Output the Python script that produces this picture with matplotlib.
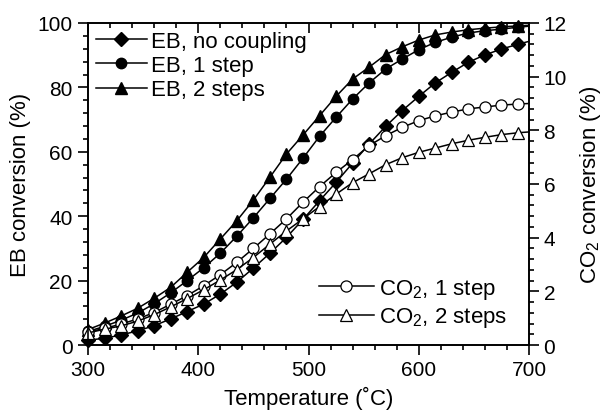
import matplotlib
matplotlib.use("Agg")
import matplotlib.pyplot as plt
from matplotlib.ticker import MultipleLocator, AutoMinorLocator

plt.rcParams["font.family"] = ["Liberation Sans", "DejaVu Sans"]
plt.rcParams["mathtext.fontset"] = "custom"
plt.rcParams["mathtext.rm"] = "Liberation Sans"
plt.rcParams["mathtext.it"] = "Liberation Sans:italic"
plt.rcParams["mathtext.bf"] = "Liberation Sans:bold"

# temperatures (markers every 15 C, the last point is the end of the line)
temp = [300, 315, 330, 345, 360, 375, 390, 405, 420, 435, 450, 465, 480, 495,
        510, 525, 540, 555, 570, 585, 600, 615, 630, 645, 660, 675, 690, 700]

# EB conversion (%)
eb_no_coupling = [1.5, 2.1, 3.1, 4.4, 6.0, 8.1, 10.4, 12.7, 15.8, 19.5, 23.9, 28.5,
                  33.4, 39.0, 44.8, 50.5, 56.5, 62.4, 67.9, 72.8, 77.2, 81.4, 84.7,
                  87.8, 90.1, 91.9, 93.4, 94.3]
eb_1step = [4.2, 5.8, 7.7, 9.9, 12.8, 16.2, 20.0, 24.0, 28.5, 33.8, 39.5, 45.5,
            51.5, 58.0, 64.8, 70.7, 76.4, 81.4, 85.7, 88.8, 91.7, 94.0, 95.6,
            96.9, 97.6, 98.1, 98.7, 99.0]
eb_2steps = [4.8, 6.8, 9.0, 11.4, 14.5, 17.9, 22.6, 27.2, 32.9, 38.6, 45.0, 52.1,
             59.3, 65.2, 71.2, 77.2, 82.6, 86.3, 90.2, 92.6, 94.7, 96.3, 97.2,
             97.9, 98.4, 98.8, 99.1, 99.3]

# CO2 conversion (%)
co2_1step = [0.48, 0.62, 0.78, 0.97, 1.21, 1.52, 1.84, 2.21, 2.62, 3.08, 3.60, 4.14,
             4.70, 5.32, 5.90, 6.43, 6.91, 7.43, 7.80, 8.11, 8.36, 8.54, 8.68,
             8.80, 8.87, 8.94, 8.98, 9.00]
co2_2steps = [0.45, 0.59, 0.71, 0.89, 1.13, 1.42, 1.73, 2.06, 2.42, 2.81, 3.26, 3.76,
              4.25, 4.70, 5.16, 5.62, 6.05, 6.38, 6.72, 6.98, 7.18, 7.34, 7.50,
              7.63, 7.74, 7.84, 7.91, 7.94]

fig = plt.figure(figsize=(6.04, 4.14), dpi=100)
ax = fig.add_axes([88 / 604, 1 - 346 / 414, (529 - 88) / 604, (346 - 24) / 414])
ax2 = ax.twinx()

marks = list(range(len(temp) - 1))
style = dict(color="black", lw=1.1, markevery=marks, clip_on=False)

ax.plot(temp, eb_no_coupling, marker="D", ms=7.2, label="EB, no coupling", **style)
ax.plot(temp, eb_1step, marker="o", ms=7.5, label="EB, 1 step", **style)
ax.plot(temp, eb_2steps, marker="^", ms=8, label="EB, 2 steps", **style)

ax2.plot(temp, co2_1step, marker="o", ms=8, mfc="white", mew=0.9,
         label="CO$_2$, 1 step", **style)
ax2.plot(temp, co2_2steps, marker="^", ms=8.5, mfc="white", mew=0.9,
         label="CO$_2$, 2 steps", **style)

ax.set_xlim(300, 700)
ax.set_ylim(0, 100)
ax2.set_ylim(0, 12)

ax.xaxis.set_major_locator(MultipleLocator(100))
ax.xaxis.set_minor_locator(MultipleLocator(20))
ax.yaxis.set_major_locator(MultipleLocator(20))
ax.yaxis.set_minor_locator(AutoMinorLocator(5))
ax2.yaxis.set_major_locator(MultipleLocator(2))
ax2.yaxis.set_minor_locator(AutoMinorLocator(5))

for a in (ax, ax2):
    for s in a.spines.values():
        s.set_linewidth(1.2)
ax.tick_params(axis="both", which="major", direction="out", length=7, width=1.2,
               labelsize=15, top=True, pad=4)
ax.tick_params(axis="both", which="minor", direction="out", length=3.5, width=1.2,
               top=True)
ax2.tick_params(axis="y", which="major", direction="out", length=7, width=1.2,
                labelsize=15)
ax2.tick_params(axis="y", which="minor", direction="out", length=3.5, width=1.2)

# top ticks point inward
for t in ax.xaxis.get_major_ticks() + ax.xaxis.get_minor_ticks():
    t.tick2line.set_marker(matplotlib.lines.TICKDOWN)

ax.set_xlabel("Temperature (˚C)", fontsize=16, labelpad=5)
ax.set_ylabel("EB conversion (%)", fontsize=16, labelpad=5)
ax2.set_ylabel("CO$_2$ conversion (%)", fontsize=16, labelpad=8)

ax.legend(loc="upper left", frameon=False, fontsize=16, handlelength=2.3,
          handletextpad=0.2, labelspacing=0.15, borderaxespad=0.15,
          borderpad=0.2)
ax2.legend(loc="lower right", frameon=False, fontsize=16, handlelength=2.5,
           handletextpad=0.2, labelspacing=0.2, borderaxespad=0.3,
           borderpad=0.4, bbox_to_anchor=(0.985, 0.0))

fig.savefig("out.png", dpi=100)
